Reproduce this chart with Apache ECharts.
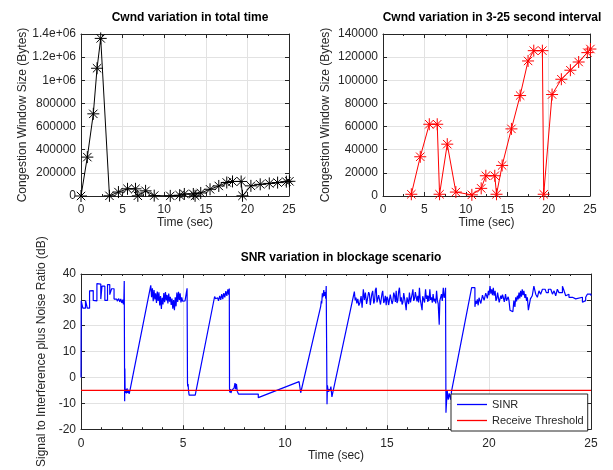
<!DOCTYPE html>
<html>
<head>
<meta charset="utf-8">
<script src="https://cdn.jsdelivr.net/npm/echarts@6/dist/echarts.min.js"></script>
<style>
  html, body { margin: 0; padding: 0; background: #fff; }
  #chart { width: 613px; height: 470px; }
</style>
</head>
<body>
<div id="chart"></div>
<script>
// TCP congestion window samples (seconds, bytes)
const cwndTime  = [0, 0.76, 1.48, 1.93, 2.37, 3.42, 4.50, 5.59, 6.55, 6.83, 7.76, 8.80, 10.73, 11.86, 12.42, 13.50, 13.71, 14.39, 15.51, 16.56, 17.52, 18.21, 19.25, 19.41, 20.42, 21.54, 22.63, 23.63, 24.68, 25.05];
const cwndBytes = [0, 336000, 710000, 1104000, 1362000, 1500, 33900, 62000, 62000, 1500, 44800, 3400, 1000, 6600, 17500, 17500, 1500, 26400, 58000, 86800, 116700, 125600, 125600, 1500, 87700, 100900, 108700, 115800, 123900, 127000];
const zoomStart = 3; // right-hand panel shows the 3-25 s part

// SINR trace in the blockage scenario: [time (s), SINR (dB)]
const sinrPoints = [
  [0,0],[0.01,29.7],[0.09,29.5],[0.09,26.8],[0.22,26.8],[0.22,29.8],[0.31,29.8],[0.31,26.8],[0.42,26.8],[0.42,33.5],
  [0.6,33.6],[0.6,29.8],[0.78,29.6],[0.78,36.3],[0.97,36.1],[0.97,30.3],[1.03,30.3],[1.03,35.3],[1.17,35.3],[1.17,29.8],
  [1.3,29.8],[1.3,35.9],[1.41,35.9],[1.41,32.0],[1.5,32.0],[1.5,34.3],[1.62,34.3],[1.62,30.3],[1.75,30.3],[1.78,29.5],
  [1.85,30.5],[1.9,29.2],[1.95,30.4],[2.0,28.8],[2.05,30.1],[2.08,28.2],[2.1,29.4],[2.12,37.3],[2.14,-9.2],
  [2.15,3.5],[2.16,-4.0],[2.18,-6.0],[2.2,-4.5],[2.23,-6.2],[2.26,-4.2],[2.29,-6.0],[2.32,-4.8],[2.36,-6.3],[2.4,-5.0],[2.44,-5.6],
  [3.42,35.6],[3.46,31.0],[3.5,34.5],[3.54,29.5],[3.58,33.8],[3.62,30.2],[3.66,32.5],[3.7,28.8],[3.74,33.2],[3.78,29.6],
  [3.82,32.9],[3.86,27.8],[3.9,31.5],[3.94,26.5],[3.98,30.8],[4.02,28.2],[4.06,32.6],[4.1,29.1],[4.14,33.0],[4.18,29.8],
  [4.22,31.9],[4.26,28.6],[4.3,32.4],[4.34,29.3],[4.38,31.2],[4.42,28.0],[4.46,30.5],[4.5,26.6],[4.54,29.9],[4.58,26.0],
  [4.62,31.0],[4.66,27.5],[4.7,32.8],[4.74,29.2],[4.78,33.1],[4.82,30.0],[4.86,32.5],[4.9,29.0],[4.94,31.0],[4.98,29.5],
  [5.02,30.2],[5.06,28.8],[5.1,29.6],[5.14,28.9],[5.18,29.3],[5.2,34.5],[5.22,-2.0],[5.23,-3.5],[5.25,-2.5],[5.27,-5.0],
  [5.3,-6.8],[5.6,-6.8],
  [6.55,31.3],[6.6,30.4],[6.66,29.8],[6.7,30.8],[6.74,29.6],[6.8,31.5],[6.85,30.0],[6.9,32.2],[6.95,30.3],[7.0,32.6],
  [7.05,31.0],[7.1,33.4],[7.15,31.5],[7.2,34.1],[7.24,32.0],[7.27,34.4],[7.28,-4.2],
  [7.29,-5.8],[7.32,-4.5],[7.35,-6.0],[7.4,-4.8],[7.45,-5.5],[7.5,-4.2],[7.55,-2.2],[7.58,-4.5],[7.62,-2.5],[7.66,-5.3],
  [7.72,-6.4],[8.69,-6.4],[8.69,-7.8],[10.69,-1.6],[10.77,-5.9],[10.8,-5.5],
  [11.75,27.5],[11.78,29.5],[11.8,28.6],[11.83,32.5],[11.86,31.0],[11.9,33.8],[11.93,31.5],[11.96,33.0],[12.0,30.5],[12.02,35.4],
  [12.06,-10.3],[12.08,-3.0],[12.12,-5.5],[12.16,-4.5],[12.2,-5.3],[12.25,-3.5],[12.3,-7.5],[12.34,-6.0],
  [13.40,33.2],[13.44,29.8],[13.48,30.9],[13.52,28.6],[13.57,30.4],[13.62,27.8],[13.68,29.1],[13.73,31.5],[13.78,27.0],[13.81,30.6],
  [13.84,34.1],[13.89,30.0],[13.94,32.8],[14.0,28.4],[14.06,29.1],[14.1,33.0],[14.14,32.2],[14.18,28.0],[14.22,28.5],[14.26,32.4],
  [14.30,33.5],[14.35,28.6],[14.39,29.7],[14.43,33.8],[14.47,34.7],[14.51,29.0],[14.55,28.5],[14.59,31.8],[14.63,32.2],[14.68,28.2],
  [14.72,27.9],[14.76,32.6],[14.79,33.5],[14.84,28.8],[14.88,29.7],[14.92,31.6],[14.96,27.9],[15.0,31.2],[15.04,30.4],[15.08,28.0],
  [15.12,27.9],[15.16,32.0],[15.20,31.6],[15.25,28.4],[15.29,29.7],[15.33,32.8],[15.37,31.6],[15.41,29.2],[15.45,33.5],[15.49,28.8],
  [15.53,29.7],[15.57,33.2],[15.61,34.7],[15.66,29.4],[15.70,31.0],[15.74,28.2],[15.78,29.1],[15.82,32.6],[15.86,32.2],[15.9,28.6],
  [15.94,26.0],[15.98,31.0],[16.02,30.4],[16.06,28.4],[16.10,32.8],[16.15,29.0],[16.19,28.5],[16.23,32.2],[16.27,34.1],[16.31,29.6],
  [16.35,30.4],[16.39,33.0],[16.43,33.5],[16.47,29.4],[16.51,31.6],[16.55,29.0],[16.59,34.7],[16.63,30.2],[16.68,29.7],[16.72,26.0],
  [16.75,31.4],[16.79,31.0],[16.84,29.0],[16.89,34.1],[16.93,30.4],[16.96,31.8],[17.0,29.2],[17.02,31.6],[17.06,29.6],[17.10,34.1],
  [17.14,30.0],[17.18,31.0],[17.22,28.9],[17.26,32.2],[17.3,29.4],[17.35,30.4],[17.39,28.6],[17.43,33.5],[17.47,29.8],[17.51,28.5],
  [17.56,20.4],[17.59,29.7],[17.63,31.0],[17.67,32.2],[17.71,29.6],[17.76,34.7],[17.8,30.8],[17.84,31.6],[17.87,34.7],[17.89,-13.6],
  [17.95,-4.9],[18.0,-8.6],[18.05,-6.1],[18.12,-8.6],[18.16,-5.5],
  [19.15,34.7],[19.31,34.7],[19.31,27.3],[19.35,29.6],[19.39,28.5],[19.43,30.2],[19.47,27.9],[19.51,30.8],[19.55,30.4],[19.6,28.6],
  [19.64,29.1],[19.68,31.8],[19.72,31.6],[19.76,29.8],[19.80,30.4],[19.84,32.6],[19.88,32.2],[19.92,30.6],[19.97,33.5],[20.0,31.8],
  [20.05,35.3],[20.09,32.4],[20.13,34.1],[20.17,31.8],[20.21,34.7],[20.25,31.6],[20.30,33.5],[20.34,29.6],[20.38,30.4],[20.42,32.8],
  [20.46,32.2],[20.5,29.0],[20.54,29.7],[20.58,31.6],[20.62,30.4],[20.66,32.0],[20.70,31.0],[20.75,29.2],[20.81,32.2],[20.86,29.6],
  [20.90,30.4],[20.94,31.2],[20.98,29.7],[21.03,26.0],[21.11,26.0],[21.17,25.4],[21.22,29.7],[21.27,27.3],[21.31,31.0],[21.35,29.4],
  [21.39,31.6],[21.43,30.2],[21.47,32.8],[21.51,30.6],[21.55,33.5],[21.59,31.2],[21.63,34.1],[21.67,31.8],[21.71,33.5],[21.76,30.8],
  [21.80,32.2],[21.84,29.6],[21.88,31.0],[21.93,26.0],[22.00,26.0],[22.03,30.4],
  [22.12,30.4],[22.12,31.6],[22.20,31.6],[22.20,35.3],[22.29,35.3],[22.29,32.2],[22.37,32.2],[22.37,31.0],[22.45,31.0],[22.45,33.5],
  [22.53,33.5],[22.53,32.2],[22.62,32.2],[22.62,34.1],[22.75,34.1],[22.75,33.5],[22.81,33.5],[22.81,32.8],[22.91,32.8],[22.91,34.1],
  [23.03,34.1],[23.03,33.5],[23.11,33.5],[23.11,32.2],[23.19,32.2],[23.19,33.5],[23.27,33.5],[23.27,31.6],[23.35,31.6],[23.35,34.1],
  [23.43,34.1],[23.43,32.8],[23.60,32.8],[23.60,35.3],[23.68,35.3],[23.68,33.5],[23.76,33.5],[23.76,31.6],[23.84,31.6],[23.84,32.2],
  [23.92,32.2],[23.92,31.0],[24.09,31.0],[24.09,30.4],[24.25,30.4],[24.25,31.0],[24.58,31.0],[24.58,29.1],[24.66,29.1],[24.66,29.7],
  [24.74,29.7],[24.74,31.0],[24.82,31.0],[24.82,32.2],[24.99,32.2],[25.0,31.6]
];
const thresholdDb = -5;

const FONT = '"Liberation Sans", Arial, Helvetica, sans-serif';
const INK = '#262626';
const GRID_LINE = '#e2e2e2';

const cwndAll = cwndTime.map((t, i) => [t, cwndBytes[i]]);
const cwndLate = cwndAll.filter(p => p[0] >= zoomStart);

// eight-armed asterisk marker, drawn as strokes
const STAR = 'path://M5,0L5,10M0,5L10,5M1.5,1.5L8.5,8.5M1.5,8.5L8.5,1.5';
// short horizontal bar used as the legend sample line
const LEGEND_LINE = 'path://M0,0L30,0L30,1.3L0,1.3Z';

function plainNum(v) { return String(v); }
function sciNum(v) {
  if (v >= 1e6) return (Math.round(v / 1e5) / 10) + 'e+06';
  return String(v);
}

function xPair(grid, minorSplit) {
  const common = {
    gridIndex: grid, type: 'value', min: 0, max: 25, interval: 5,
    axisLine: { show: true, onZero: false, lineStyle: { color: INK, width: 1 } },
    axisTick: { show: true, inside: true, length: 4, lineStyle: { color: INK } },
    minorTick: { show: true, splitNumber: minorSplit, length: 2, lineStyle: { color: INK } }
  };
  return [
    Object.assign({}, common, {
      position: 'bottom',
      axisLabel: { color: INK, fontSize: 12, fontFamily: FONT, margin: 8 },
      splitLine: { show: true, lineStyle: { color: GRID_LINE, width: 1 } },
      name: 'Time (sec)', nameLocation: 'middle', nameGap: 20,
      nameTextStyle: { color: INK, fontSize: 12, fontFamily: FONT }
    }),
    Object.assign({}, common, {
      position: 'top', axisLabel: { show: false }, splitLine: { show: false }
    })
  ];
}

function yPair(grid, min, max, interval, fmt, name, gap) {
  const common = {
    gridIndex: grid, type: 'value', min: min, max: max, interval: interval,
    axisLine: { show: true, onZero: false, lineStyle: { color: INK, width: 1 } },
    axisTick: { show: true, inside: true, length: 4, lineStyle: { color: INK } }
  };
  return [
    Object.assign({}, common, {
      position: 'left',
      axisLabel: { color: INK, fontSize: 12, fontFamily: FONT, margin: 5, formatter: fmt },
      splitLine: { show: true, lineStyle: { color: GRID_LINE, width: 1 } },
      name: name, nameLocation: 'middle', nameGap: gap,
      nameTextStyle: { color: INK, fontSize: 12, fontFamily: FONT }
    }),
    Object.assign({}, common, {
      position: 'right', axisLabel: { show: false }, splitLine: { show: false }
    })
  ];
}

const titleStyle = { fontSize: 12, fontWeight: 'bold', color: '#000', fontFamily: FONT };

const option = {
  animation: false,
  backgroundColor: '#fff',
  title: [
    { text: 'Cwnd variation in total time', left: 185, top: 7, textAlign: 'center', textStyle: titleStyle },
    { text: 'Cwnd variation in 3-25 second interval', left: 487, top: 7, textAlign: 'center', textStyle: titleStyle },
    { text: 'SNR variation in blockage scenario', left: 336, top: 247, textAlign: 'center', textStyle: titleStyle }
  ],
  grid: [
    { left: 81, top: 34, width: 208, height: 162 },
    { left: 383, top: 34, width: 207, height: 162 },
    { left: 81, top: 274, width: 510, height: 161 }
  ],
  xAxis: [].concat(xPair(0, 2), xPair(1, 2), xPair(2, 5)),
  yAxis: [].concat(
    yPair(0, 0, 1400000, 200000, sciNum, 'Congestion Window Size (Bytes)', 52),
    yPair(1, 0, 140000, 20000, plainNum, 'Congestion Window Size (Bytes)', 51),
    yPair(2, -20, 40, 10, plainNum, 'Signal to Interference plus Noise Ratio (dB)', 27)
  ),
  legend: {
    data: [
      { name: 'SINR', icon: LEGEND_LINE },
      { name: 'Receive Threshold', icon: LEGEND_LINE }
    ],
    orient: 'vertical', left: 451, top: 394,
    padding: [5, 4, 5, 6], itemGap: 5, itemWidth: 30, itemHeight: 2,
    borderColor: INK, borderWidth: 1, backgroundColor: '#fff', borderRadius: 0,
    textStyle: { color: INK, fontSize: 11, fontFamily: FONT }
  },
  series: [
    {
      type: 'line', xAxisIndex: 0, yAxisIndex: 0, data: cwndAll, clip: false,
      symbol: STAR, symbolSize: 12,
      lineStyle: { color: '#000', width: 1 },
      itemStyle: { color: '#000', borderColor: '#000', borderWidth: 1 }
    },
    {
      type: 'line', xAxisIndex: 2, yAxisIndex: 2, data: cwndLate, clip: false,
      symbol: STAR, symbolSize: 12,
      lineStyle: { color: '#ff0000', width: 1 },
      itemStyle: { color: '#ff0000', borderColor: '#ff0000', borderWidth: 1 }
    },
    {
      name: 'SINR', type: 'line', xAxisIndex: 4, yAxisIndex: 4, data: sinrPoints,
      symbol: 'none', lineStyle: { color: '#0000ff', width: 1.2 },
      itemStyle: { color: '#0000ff' }
    },
    {
      name: 'Receive Threshold', type: 'line', xAxisIndex: 4, yAxisIndex: 4,
      data: [[0, thresholdDb], [25, thresholdDb]],
      symbol: 'none', lineStyle: { color: '#ff0000', width: 1.2 },
      itemStyle: { color: '#ff0000' }
    }
  ]
};

const chart = echarts.init(document.getElementById('chart'), null, { renderer: 'canvas' });
chart.setOption(option);
</script>
</body>
</html>
